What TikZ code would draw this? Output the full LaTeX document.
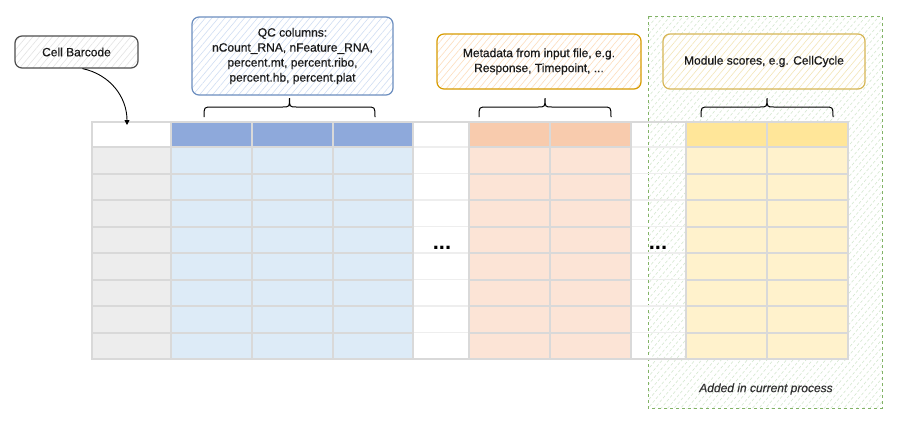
\documentclass[tikz,border=0pt]{standalone}
\usepackage{fontspec}
\setmainfont{Liberation Sans}
\newfontfamily\notefont[FakeBold=0.5]{Liberation Sans}
\usetikzlibrary{arrows.meta,patterns.meta,positioning}

\definecolor{gridgray}{HTML}{D9D9D9}
\definecolor{gaplight}{HTML}{EEEEEE}
\definecolor{bcbody}{HTML}{EDEDED}
\definecolor{qchead}{HTML}{8EA9DB}
\definecolor{qcbody}{HTML}{DDEBF7}
\definecolor{metahead}{HTML}{F8CBAD}
\definecolor{metabody}{HTML}{FCE4D6}
\definecolor{modhead}{HTML}{FFE699}
\definecolor{modbody}{HTML}{FFF2CC}
\definecolor{textdark}{HTML}{1A1A1A}
\definecolor{textgray}{HTML}{333333}
\definecolor{bcline}{HTML}{4D4D4D}
\definecolor{bchatch}{HTML}{E3E3E3}
\definecolor{qcline}{HTML}{6C8EBF}
\definecolor{qchatch}{HTML}{D0DEF3}
\definecolor{metaline}{HTML}{D79B00}
\definecolor{metahatch}{HTML}{FDDDBD}
\definecolor{modline}{HTML}{D6B656}
\definecolor{modhatch}{HTML}{F3E6B8}
\definecolor{greenline}{HTML}{82B366}
\definecolor{greenhatch}{HTML}{D5E8D0}

\begin{document}
\begin{tikzpicture}[x=1pt, y=1pt,
  note/.style={rounded corners=7pt, line width=1.2pt, align=center, text=textdark,
    font=\notefont\fontsize{12}{15}\selectfont, inner sep=0pt},
  hatch/.style={preaction={fill=white}, pattern={Lines[angle=50,distance=5pt,line width=0.6pt]},
    pattern color=#1},
  cellline/.style={draw=gridgray, line width=2pt},
  gapline/.style={draw=gaplight, line width=1.5pt},
  dotsbox/.style={font=\bfseries\fontsize{22}{22}\selectfont, inner sep=0pt},
  curly/.style={line width=1pt, black}]

\useasboundingbox (0,0) rectangle (898,-426);

% region added in current process
\draw[hatch=greenhatch, draw=greenline, line width=1pt, dash pattern=on 3pt off 3pt]
  (648,-16) rectangle (882,-408);
\node[font=\notefont\itshape\fontsize{12}{14}\selectfont, text=textgray] (added) at (766,-389)
  {Added in current process};

% table: cell fills
\foreach \xa/\xb/\hc/\bc in {92/171/white/bcbody, 171/252/qchead/qcbody, 252/333/qchead/qcbody,
    333/413/qchead/qcbody, 469/550/metahead/metabody, 550/631/metahead/metabody,
    686/767/modhead/modbody, 767/848/modhead/modbody}
{
  \fill[\hc] (\xa,-122) rectangle (\xb,-147);
  \fill[\bc] (\xa,-147) rectangle (\xb,-359);
}

% gap columns
\foreach \xa/\xb in {413/469, 631/686}
  \foreach \y in {147,173.5,...,332.5}
    \draw[gapline] (\xa,-\y) -- (\xb,-\y);

% grid
\foreach \xa/\xb in {92/171, 171/252, 252/333, 333/413, 469/550, 550/631, 686/767, 767/848}
{
  \draw[cellline] (\xa,-122) rectangle (\xb,-147);
  \foreach \y in {147,173.5,...,332.5}
    \draw[cellline] (\xa,-\y) rectangle (\xb,-\y-26.5);
}
\draw[cellline] (92,-122) rectangle (848,-359);

% dots
\node[dotsbox] (dotsa) at (442,-247.5) {...};
\node[dotsbox] (dotsb) at (658,-247.5) {...};

% callouts
\node[note, hatch=bchatch, draw=bcline, minimum width=123pt, minimum height=32pt]
  (barcode) at (76.5,-52) {Cell Barcode};
\node[note, hatch=qchatch, draw=qcline, minimum width=201pt, minimum height=78pt]
  (qccols) at (292.5,-56) {QC columns:\\nCount\_RNA, nFeature\_RNA,\\percent.mt, percent.ribo,\\percent.hb, percent.plat};
\node[note, hatch=metahatch, draw=metaline, minimum width=204pt, minimum height=55pt]
  (metacols) at (539,-61.5) {Metadata from input file, e.g.\\Response, Timepoint, ...};
\node[note, hatch=modhatch, draw=modline, minimum width=202pt, minimum height=55pt]
  (modcols) at (764,-61.5) {Module scores, e.g. CellCycle};

% arrow to the barcode column
\coordinate (bcend) at (127,-125);
\draw[-{Triangle[length=5pt,width=5pt]}, line width=0.9pt]
  ([xshift=6pt]barcode.south) to[out=-12, in=90] (bcend);

% braces
\foreach \a/\b/\m in {204/375/289.5, 479/611/545, 701/833/767}
  \draw[curly] (\a,-117) .. controls (\a,-107) .. (\a+8,-107) -- (\m-7,-107)
    .. controls (\m,-107) .. (\m,-98) .. controls (\m,-107) .. (\m+7,-107)
    -- (\b-8,-107) .. controls (\b,-107) .. (\b,-117);

\end{tikzpicture}
\end{document}
